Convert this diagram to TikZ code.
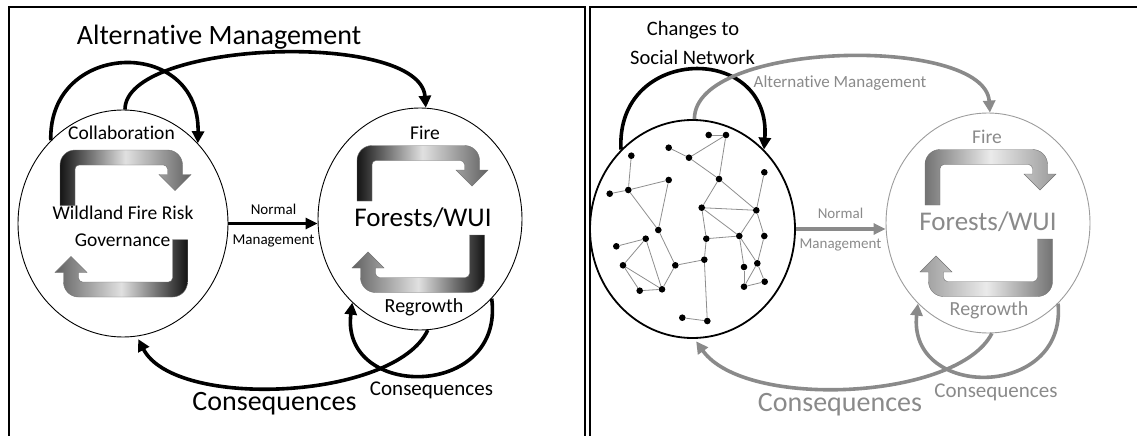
\documentclass[tikz,border=0pt]{standalone}
\usepackage{fontspec}
\setmainfont{Carlito}[RawFeature=-liga]
\usetikzlibrary{arrows.meta,shapes.geometric}
\definecolor{muted}{HTML}{8A8A8A}
\definecolor{mutedring}{HTML}{9C9C9C}
\definecolor{linkgray}{HTML}{8E8E8E}
\tikzset{
  txt/.style={inner sep=0pt, font=\fontsize{#1}{#1}\selectfont},
  ring/.style={ellipse, draw, line width=0.9pt, inner sep=0pt},
  bigflow/.style={line width=3.6pt, -{Triangle[length=12pt,width=12pt]}},
  straightflow/.style={line width=3.6pt, -{Triangle[length=12pt,width=11pt]}},
  member/.style={circle, fill=black, inner sep=0pt, minimum size=6.6pt},
  tie/.style={draw=linkgray, line width=0.8pt},
  frame/.style={line width=2pt},
  % pair of shaded U-turn arrows forming a cycle; args: tail colour, middle, head colour
  pics/cycletube/.style n args={3}{code={
    \shade[left color=#1, right color=#3, middle color=#2, draw=black!55, line width=0.4pt]
      (-63,-18) -- (-63,-58.5) .. controls (-63,-66.8) and (-56.3,-73.5) .. (-48,-73.5)
      -- (44.5,-73.5) .. controls (52.8,-73.5) and (59.5,-66.8) .. (59.5,-58.5)
      -- (59.5,-49) -- (68,-49) -- (52,-33) -- (36,-49) -- (44.5,-49)
      -- (44.5,-54.5) .. controls (44.5,-56.7) and (42.7,-58.5) .. (40.5,-58.5)
      -- (-44,-58.5) .. controls (-46.2,-58.5) and (-48,-56.7) .. (-48,-54.5)
      -- (-48,-18) -- cycle;
    \shade[left color=#3, right color=#1, middle color=#2, draw=black!55, line width=0.4pt]
      (64.5,16) -- (64.5,58.5) .. controls (64.5,66.8) and (57.8,73.5) .. (49.5,73.5)
      -- (-44.5,73.5) .. controls (-52.8,73.5) and (-59.5,66.8) .. (-59.5,58.5)
      -- (-59.5,49) -- (-68,49) -- (-52,33) -- (-36,49) -- (-44.5,49)
      -- (-44.5,54.5) .. controls (-44.5,56.7) and (-42.7,58.5) .. (-40.5,58.5)
      -- (45.5,58.5) .. controls (47.7,58.5) and (49.5,56.7) .. (49.5,54.5)
      -- (49.5,16) -- cycle;
  }}
}
\begin{document}
\begin{tikzpicture}[x=1pt,y=-1pt]
\useasboundingbox (0,0) rectangle (1137,436);

% panel frames
\draw[frame] (9,440) -- (9,7) -- (585,7) -- (585,440);
\draw[frame] (1140,7) -- (590,7) -- (590,440);

%% ---------------- left panel ----------------
\node[ring, minimum width=210pt, minimum height=227pt] (gov) at (123,223.5) {};
\node[ring, minimum width=204pt, minimum height=222pt] (forest) at (420,219) {};

\path (gov.center) pic {cycletube={black!92}{black!12}{black!62}};
\path (forest.center) pic {cycletube={black!92}{black!12}{black!62}};

\node[txt=28] (altL) at (219,37) {Alternative Management};
\node[txt=19.5] (collab) at (121.5,133) {Collaboration};
\node[txt=19.5] (wfr) at (123,213) {Wildland Fire Risk};
\node[txt=19.5] (govtxt) at (122.5,240) {Governance};
\node[txt=15] (normL) at (273.5,209) {Normal};
\node[txt=15] (mgmtL) at (273.5,241) {Management};
\node[txt=19.5] (fireL) at (425,133) {Fire};
\node[txt=27] (fwL) at (423,218) {Forests/WUI};
\node[txt=20] (regL) at (424,307) {Regrowth};
\node[txt=28] (consBigL) at (274.5,404) {Consequences};
\node[txt=21] (consSmL) at (431.5,390) {Consequences};

\draw[bigflow] (gov.131) .. controls (48,40) and (200,36) .. (gov.47);
\draw[bigflow] (gov.89) .. controls (125,40) and (420,30) .. (forest.87);
\draw[straightflow] (gov.east) -- (gov.east -| forest.west);
\draw[bigflow, shorten >=3pt] (forest.-86) .. controls (395,400) and (175,410) .. (gov.-83);
\draw[bigflow] (forest.-48) .. controls (505,400) and (340,400) .. (forest.-129);

%% ---------------- right panel ----------------
\node[ring, line width=1.8pt, minimum width=205pt, minimum height=218pt] (net) at (692.5,229) {};
\node[ring, draw=mutedring, minimum width=204pt, minimum height=220pt] (forest2) at (988,223) {};

\path (forest2.center) pic {cycletube={black!55}{black!8}{black!40}};

% social network members
\node[member] (n1) at (708.7,135) {};
\node[member] (n2) at (726,135) {};
\node[member] (n3) at (668.7,147.7) {};
\node[member] (n4) at (689,157.7) {};
\node[member] (n5) at (631.3,155.7) {};
\node[member] (n6) at (719,179) {};
\node[member] (n7) at (764.3,172.3) {};
\node[member] (n8) at (668.7,180) {};
\node[member] (n9) at (609.7,193.7) {};
\node[member] (n10) at (628.3,190) {};
\node[member] (n11) at (701.7,207.7) {};
\node[member] (n12) at (756.3,210.3) {};
\node[member] (n13) at (658.3,230) {};
\node[member] (n14) at (645.7,238.7) {};
\node[member] (n15) at (616.3,246.3) {};
\node[member] (n16) at (706.3,238.7) {};
\node[member] (n17) at (739.3,236) {};
\node[member] (n18) at (764.3,236) {};
\node[member] (n19) at (623,265.3) {};
\node[member] (n20) at (675.3,265.3) {};
\node[member] (n21) at (704.3,259.7) {};
\node[member] (n22) at (744,267) {};
\node[member] (n23) at (757.3,263.3) {};
\node[member] (n24) at (639.7,290.7) {};
\node[member] (n25) at (662,289.3) {};
\node[member] (n26) at (744,286.7) {};
\node[member] (n27) at (764.7,281.7) {};
\node[member] (n28) at (682.3,317.7) {};
\node[member] (n29) at (707.3,321) {};

\foreach \a/\b in {n1/n2, n2/n4, n2/n6, n3/n4, n4/n6, n6/n11, n6/n12, n7/n12,
  n11/n12, n11/n17, n11/n16, n12/n17, n12/n18, n16/n17, n16/n21, n17/n22,
  n17/n23, n18/n23, n23/n26, n23/n27, n22/n26, n26/n27, n21/n20, n21/n29,
  n28/n29, n20/n13, n20/n25, n13/n8, n13/n10, n10/n8, n10/n5, n10/n9,
  n14/n15, n14/n19, n14/n25, n19/n25, n19/n24, n24/n25}
  \draw[tie] (\a) -- (\b);

\node[txt=20.5] (chg1) at (693,30) {Changes to};
\node[txt=20.5] (chg2) at (692.5,57) {Social Network};
\node[txt=17, text=muted] (altR) at (840,83) {Alternative Management};
\node[txt=15, text=muted] (normR) at (840.5,213) {Normal};
\node[txt=15, text=muted] (mgmtR) at (840.5,245) {Management};
\node[txt=19.5, text=muted] (fireR) at (987,137) {Fire};
\node[txt=27, text=muted] (fwR) at (988,222) {Forests/WUI};
\node[txt=20, text=muted] (regR) at (989,310) {Regrowth};
\node[txt=28, text=muted] (consBigR) at (840,405) {Consequences};
\node[txt=21, text=muted] (consSmR) at (996,392) {Consequences};

\draw[bigflow] (net.132) .. controls (615,45) and (772,42) .. (net.48);
\draw[bigflow, draw=muted] (net.89) .. controls (694,40) and (985,35) .. (forest2.89);
\draw[straightflow, draw=muted] (net.east) -- (net.east -| forest2.west);
\draw[bigflow, draw=muted, shorten >=3pt] (forest2.-88) .. controls (958,400) and (745,410) .. (net.-89);
\draw[bigflow, draw=muted] (forest2.-49) .. controls (1067,400) and (907,400) .. (forest2.-131);
\end{tikzpicture}
\end{document}
